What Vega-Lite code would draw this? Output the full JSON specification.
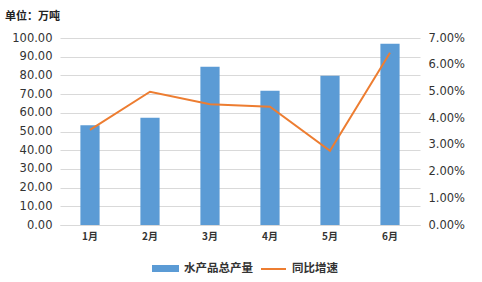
{
  "$schema": "https://vega.github.io/schema/vega-lite/v6.json",
  "autosize": {"type": "none"},
  "width": 360,
  "height": 187,
  "padding": {"left": 60, "top": 38, "right": 62, "bottom": 57},
  "background": "white",
  "title": {
    "text": "单位：万吨",
    "anchor": "start",
    "frame": "group",
    "dx": -55,
    "offset": 10,
    "font": "Noto Sans CJK SC",
    "fontSize": 11,
    "fontWeight": "bold",
    "color": "#222222"
  },
  "data": {
    "values": [
      {"month": "1月", "output": 53.3, "growth": 0.0356},
      {"month": "2月", "output": 57.3, "growth": 0.0499},
      {"month": "3月", "output": 84.6, "growth": 0.0452},
      {"month": "4月", "output": 71.8, "growth": 0.0443},
      {"month": "5月", "output": 79.8, "growth": 0.0278},
      {"month": "6月", "output": 96.9, "growth": 0.0645}
    ]
  },
  "config": {
    "view": {"stroke": null},
    "axis": {
      "labelFont": "DejaVu Sans",
      "labelFontSize": 11.5,
      "labelColor": "#333333",
      "ticks": false,
      "domain": false,
      "title": null
    }
  },
  "encoding": {
    "x": {
      "field": "month",
      "type": "nominal",
      "sort": null,
      "scale": {"paddingInner": 0.68, "paddingOuter": 0.34},
      "axis": {
        "labelAngle": 0,
        "labelFontWeight": "bold",
        "labelFont": "Noto Sans CJK SC",
        "labelFontSize": 10,
        "labelPadding": 6,
        "domain": true,
        "domainColor": "#D9D9D9",
        "grid": false
      }
    }
  },
  "layer": [
    {
      "mark": {"type": "bar", "color": "#5B9BD5"},
      "encoding": {
        "y": {
          "field": "output",
          "type": "quantitative",
          "scale": {"domain": [0, 100]},
          "axis": {
            "values": [0, 10, 20, 30, 40, 50, 60, 70, 80, 90, 100],
            "format": ".2f",
            "grid": true,
            "gridColor": "#D9D9D9",
            "labelPadding": 8
          }
        },
        "color": {
          "datum": "水产品总产量",
          "type": "nominal",
          "scale": {"domain": ["水产品总产量", "同比增速"], "range": ["#5B9BD5", "#ED7D31"]},
          "legend": {
            "orient": "none",
            "legendX": 92,
            "legendY": 217,
            "direction": "horizontal",
            "title": null,
            "labelFont": "Noto Sans CJK SC",
            "labelFontSize": 11.5,
            "labelFontWeight": "bold",
            "labelColor": "#333333",
            "symbolSize": 625,
            "columnPadding": 4,
            "labelOffset": 5,
            "encode": {
              "symbols": {
                "update": {
                  "shape": {"signal": "datum.value === '同比增速' ? 'stroke' : 'M-1,-0.2H1V0.2H-1Z'"},
                  "fill": {"signal": "datum.value === '同比增速' ? 'transparent' : '#5B9BD5'"},
                  "stroke": {"signal": "datum.value === '同比增速' ? '#ED7D31' : 'transparent'"},
                  "strokeWidth": {"value": 2}
                }
              }
            }
          }
        }
      }
    },
    {
      "mark": {"type": "line", "color": "#ED7D31", "strokeWidth": 2},
      "encoding": {
        "y": {
          "field": "growth",
          "type": "quantitative",
          "scale": {"domain": [0, 0.07]},
          "axis": {
            "orient": "right",
            "values": [0, 0.01, 0.02, 0.03, 0.04, 0.05, 0.06, 0.07],
            "format": ".2%",
            "grid": false,
            "labelPadding": 8
          }
        },
        "color": {"datum": "同比增速", "type": "nominal"}
      }
    }
  ],
  "resolve": {"scale": {"y": "independent"}}
}
